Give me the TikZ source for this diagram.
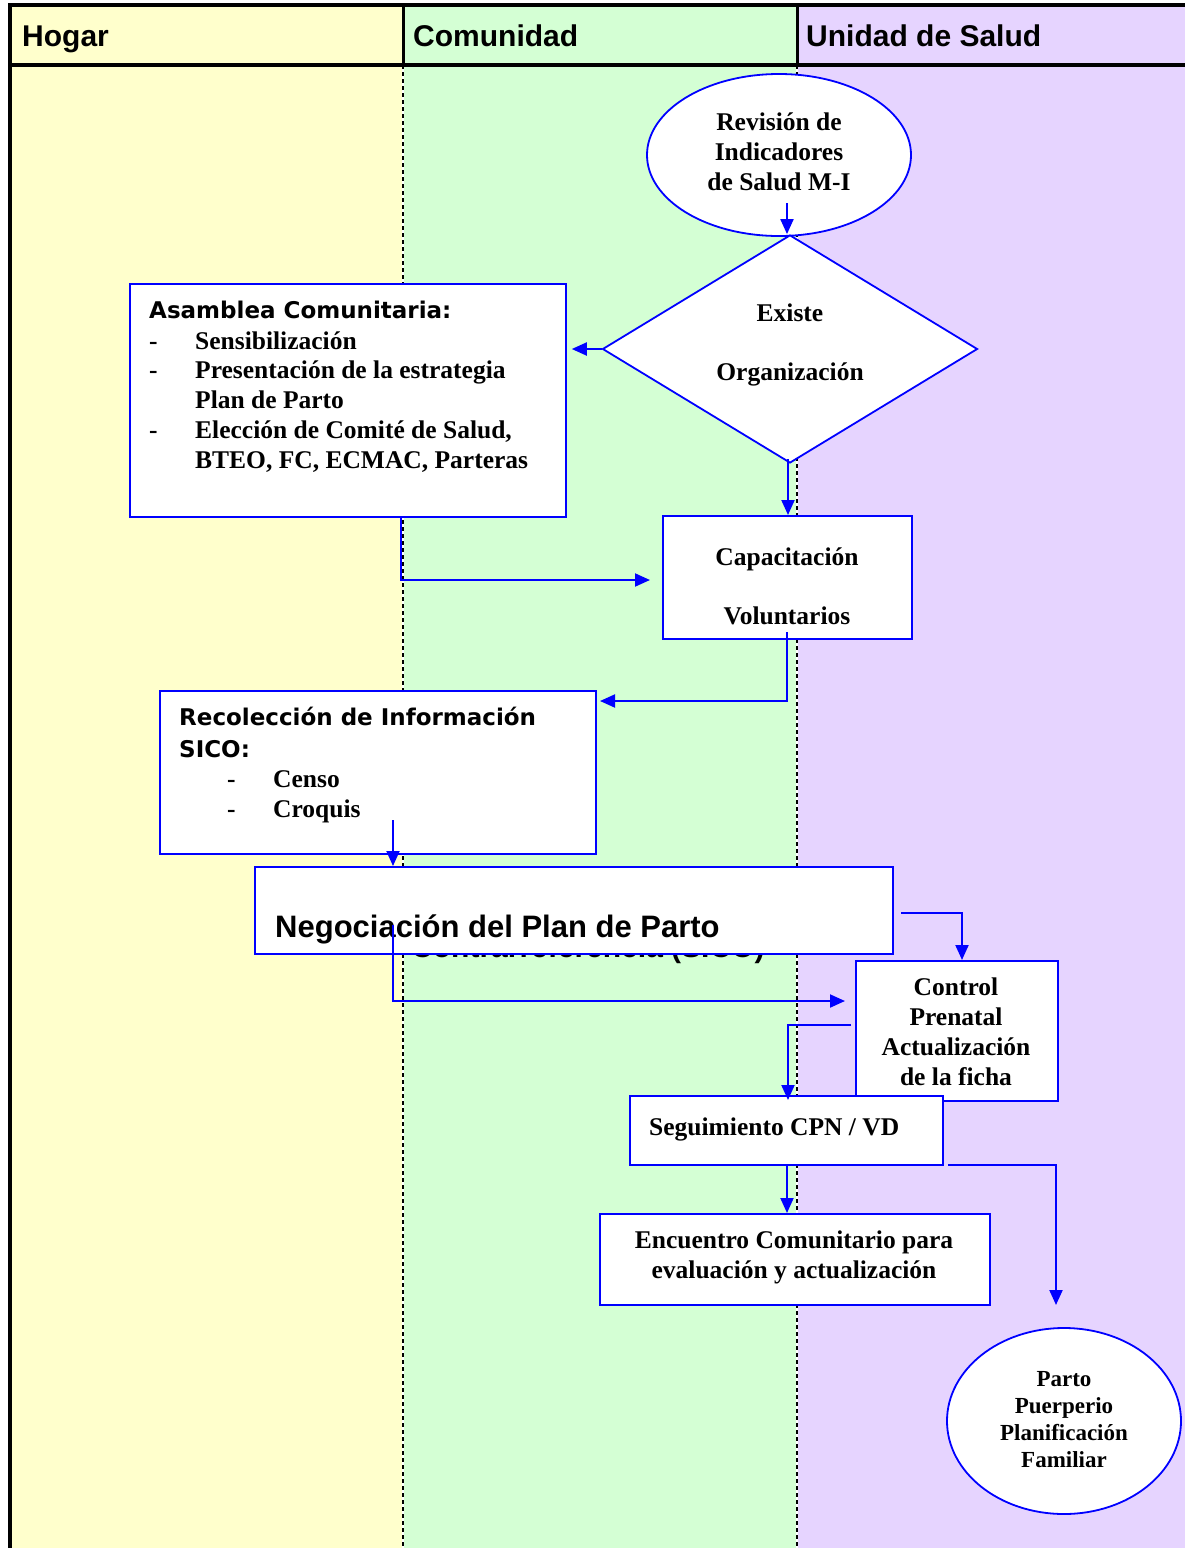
\documentclass[tikz,border=0pt]{standalone}
\usepackage{fontspec}
\setmainfont{Liberation Serif}
\newfontfamily\arialf{Liberation Sans}
\newfontfamily\verdf{DejaVu Sans}
\usetikzlibrary{arrows.meta,shapes.geometric}
\definecolor{hogarc}{HTML}{FFFFCC}
\definecolor{comc}{HTML}{D4FFD4}
\definecolor{usc}{HTML}{E6D4FF}
\definecolor{flowblue}{HTML}{0000FF}
\begin{document}
\begin{tikzpicture}[x=1pt,y=-1pt,
  flowbox/.style={draw=flowblue,line width=1.8pt,fill=white,inner sep=0pt,anchor=north west},
  flowell/.style={ellipse,draw=flowblue,line width=1.8pt,fill=white,inner sep=0pt},
  txt/.style={inner sep=0pt,font=\bfseries\fontsize{25.5}{30}\selectfont,text height=17pt,text depth=5pt},
  mtxt/.style={inner sep=0pt,align=center,font=\bfseries\fontsize{25.5}{30}\selectfont},
  stxt/.style={inner sep=0pt,align=center,font=\bfseries\fontsize{23}{27}\selectfont},
  vtxt/.style={inner sep=0pt,font=\verdf\bfseries\fontsize{23}{30}\selectfont,text height=17pt,text depth=5pt},
  htxt/.style={inner sep=0pt,font=\arialf\bfseries\fontsize{30}{34}\selectfont,text height=22pt,text depth=6pt},
  conn/.style={draw=flowblue,line width=2pt,-{Triangle[length=15pt,width=13pt]}},
  lane/.style={line width=2.6pt,dash pattern=on 4pt off 3pt},
]
\useasboundingbox (0,0) rectangle (1185,1548);
% backgrounds
\fill[hogarc] (10,5) rectangle (403,1548);
\fill[comc] (403,5) rectangle (797,1548);
\fill[usc] (797,5) rectangle (1185,1548);
% lane dividers
\draw[white,line width=2.6pt] (403,65) -- (403,1548) (797,65) -- (797,1548);
\draw[lane] (403,65) -- (403,1548) (797,65) -- (797,1548);
\draw[line width=3pt] (403,5) -- (403,65) (797,5) -- (797,65);
\draw[line width=4pt] (8,5) -- (1185,5) (8,65) -- (1185,65);
\draw[line width=4pt] (10,3) -- (10,1548);
% headers
\node[htxt,anchor=west] (h1) at (22,38) {Hogar};
\node[htxt,anchor=west] (h2) at (413,38) {Comunidad};
\node[htxt,anchor=west] (h3) at (806,38) {Unidad de Salud};

% text partly hidden behind the Negociacion box
\node[inner sep=0pt,font=\arialf\bfseries\fontsize{30}{34}\selectfont,anchor=base west] (contra) at (411,957) {Contrarreferencia (SICO)};

% shapes
\node[flowell,minimum width=264,minimum height=162] (rev) at (779,155) {};
\node[diamond,draw=flowblue,line width=1.8pt,fill=white,inner sep=0pt,minimum width=375,minimum height=228,aspect=1.64] (dia) at (790,349) {};
\node[flowbox,minimum width=436,minimum height=233] (asam) at (129,283) {};
\node[flowbox,minimum width=249,minimum height=123] (cap) at (662,515) {};
\node[flowbox,minimum width=436,minimum height=163] (rec) at (159,690) {};
\node[flowbox,minimum width=638,minimum height=87] (neg) at (254,866) {};
\node[flowbox,minimum width=202,minimum height=140] (ctrl) at (855,960) {};
\node[flowbox,minimum width=313,minimum height=69] (seg) at (629,1095) {};
\node[flowbox,minimum width=390,minimum height=91] (enc) at (599,1213) {};
\node[flowell,minimum width=234,minimum height=186] (parto) at (1064,1421) {};

% texts
\node[mtxt] (revt) at (779,152) {Revisión de\\Indicadores\\de Salud M-I};
\node[txt] (dia1) at (790,315) {Existe};
\node[txt] (dia2) at (790,374) {Organización};

\node[vtxt,anchor=west] (asamt) at (149,312) {Asamblea Comunitaria:};
\node[txt,anchor=west] (asd1) at (149,343) {-};
\node[txt,anchor=west] (asl1) at (195,343) {Sensibilización};
\node[txt,anchor=west] (asd2) at (149,372) {-};
\node[txt,anchor=west] (asl2) at (195,372) {Presentación de la estrategia};
\node[txt,anchor=west] (asl3) at (195,402) {Plan de Parto};
\node[txt,anchor=west] (asd3) at (149,432) {-};
\node[txt,anchor=west] (asl4) at (195,432) {Elección de Comité de Salud,};
\node[txt,anchor=west] (asl5) at (195,462) {BTEO, FC, ECMAC, Parteras};

\node[txt] (cap1) at (787,559) {Capacitación};
\node[txt] (cap2) at (787,618) {Voluntarios};

\node[vtxt,anchor=west] (rect1) at (179,719) {Recolección de Información};
\node[vtxt,anchor=west] (rect2) at (179,751) {SICO:};
\node[txt,anchor=west] (rcd1) at (227,781) {-};
\node[txt,anchor=west] (rcl1) at (273,781) {Censo};
\node[txt,anchor=west] (rcd2) at (227,811) {-};
\node[txt,anchor=west] (rcl2) at (273,811) {Croquis};

\node[htxt,anchor=west,font=\arialf\bfseries\fontsize{31}{34}\selectfont] (negt) at (275,929) {Negociación del Plan de Parto};

\node[mtxt] (ctrlt) at (956,1032) {Control\\Prenatal\\Actualización\\de la ficha};
\node[txt,anchor=west] (segt) at (649,1129) {Seguimiento CPN / VD};
\node[mtxt] (enct) at (794,1257) {Encuentro Comunitario para\\evaluación y actualización};
\node[stxt] (partot) at (1064,1420) {Parto\\Puerperio\\Planificación\\Familiar};

% connectors
\coordinate (a0) at (787,203);
\draw[conn] (a0) -- (a0 |- dia.north);
\draw[conn] (dia.west) -- ([xshift=5pt]asam.east |- dia.west);
\draw[conn] ([yshift=5pt]dia.south -| 788,0) -- (cap.north -| 788,0);
\coordinate (d0) at (401,516);
\coordinate (d1) at (650,580);
\draw[conn] (d0) |- (d1);
\coordinate (e0) at (787,632);
\coordinate (e1) at (600,701);
\draw[conn] (e0) |- (e1);
\coordinate (f0) at (393,820);
\draw[conn] (f0) -- (f0 |- neg.north);
\coordinate (g0) at (393,925);
\coordinate (g1) at (845,1001);
\draw[conn] (g0) |- (g1);
\coordinate (h0) at (901,913);
\draw[conn] (h0) -| (ctrl.north -| 962,0);
\coordinate (i0) at (851,1025);
\coordinate (i1) at (788,1100);
\draw[conn] (i0) -| (i1);
\draw[conn] (seg.south -| 787,0) -- (enc.north -| 787,0);
\coordinate (k0) at (948,1165);
\coordinate (k1) at (1056,1305);
\draw[conn] (k0) -| (k1);
\end{tikzpicture}
\end{document}
